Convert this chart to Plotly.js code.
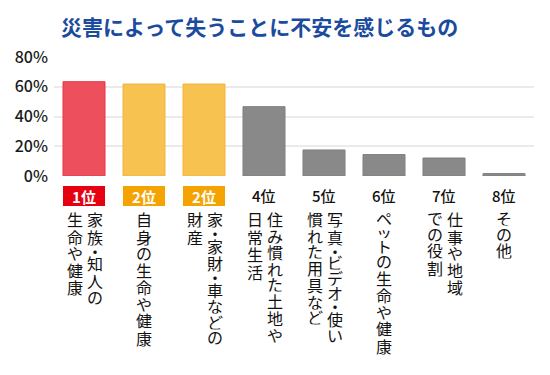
<!DOCTYPE html>
<html>
<head>
<meta charset="utf-8">
<script src="https://cdn.plot.ly/plotly-3.0.1.min.js"></script>
<style>html,body{margin:0;padding:0;background:#fff;}#chart{width:550px;height:375px;}</style>
</head>
<body>
<div id="chart"></div>
<script>
// Data
var categories = ["家族・知人の\n生命や健康", "自身の生命や健康", "家・家財・車などの\n財産", "住み慣れた土地や\n日常生活", "写真・ビデオ・使い\n慣れた用具など", "ペットの生命や健康", "仕事や地域\nでの役割", "その他"];
var values = [63.4, 61.8, 61.8, 46.6, 17.5, 14.4, 12.1, 1.6];
var ranks = ["1位", "2位", "2位", "4位", "5位", "6位", "7位", "8位"];
var rankNums = [1, 2, 2, 4, 5, 6, 7, 8];
var yTicks = [0, 20, 40, 60, 80];

var FONT = "Noto Sans CJK JP, Noto Sans, sans-serif";

function barColor(r) { return r === 1 ? "#ee4f5d" : (r <= 3 ? "#f7c24f" : "#898989"); }
function barLine(r) { return r === 1 ? "#e8364a" : (r <= 3 ? "#f3b43a" : "#7e7e7e"); }
function boxColor(r) { return r === 1 ? "#e60012" : "#f5a300"; }

var xs = categories.map(function (_, i) { return i; });

var trace = {
  type: "bar",
  x: xs,
  y: values,
  marker: {
    color: rankNums.map(barColor),
    line: { color: rankNums.map(barLine), width: 1 }
  },
  hoverinfo: "skip"
};

var annotations = [];

// rank badges
ranks.forEach(function (t, i) {
  var r = rankNums[i];
  var a = {
    xref: "x", x: i, yref: "paper", y: 0, yanchor: "middle", xanchor: "center",
    yshift: -19.5, text: t, showarrow: false,
    font: { family: FONT, size: 15, color: r <= 3 ? "#ffffff" : "#111111", weight: r <= 3 ? "bold" : 500 }
  };
  if (r <= 3) {
    a.bgcolor = boxColor(r);
    a.width = 42; a.height = 20; a.borderpad = 0;
    a.bordercolor = boxColor(r); a.borderwidth = 0;
  }
  annotations.push(a);
});

// vertical (tategaki) category labels, one annotation per character
function advance(ch) {
  if (ch === "・") return 9;
  if ("ッっャュョ".indexOf(ch) >= 0) return 12;
  var c = ch.charCodeAt(0);
  if (c >= 0x3040 && c <= 0x30ff) return 15.5;
  return 17.5;
}
categories.forEach(function (lab, i) {
  var cols = lab.split("\n");
  cols.forEach(function (col, k) {
    var xoff;
    if (cols.length === 1) xoff = -0.5;
    else xoff = (k === 0) ? 11 : -9;
    var cum = 34.5;
    Array.from(col).forEach(function (ch) {
      var adv = advance(ch);
      annotations.push({
        xref: "x", x: i, yref: "paper", y: 0,
        xanchor: "center", yanchor: "middle",
        xshift: xoff, yshift: -(cum + adv / 2),
        text: ch, showarrow: false, height: adv, borderpad: 0,
        font: { family: FONT, size: 16, color: "#111111" }
      });
      cum += adv;
    });
  });
});

var layout = {
  width: 550, height: 375,
  margin: { l: 54, r: 16, t: 57, b: 199 },
  paper_bgcolor: "#ffffff", plot_bgcolor: "#ffffff",
  showlegend: false,
  bargap: 0.3,
  title: {
    text: "災害によって失うことに不安を感じるもの",
    font: { family: FONT, size: 21, color: "#1a4b9e", weight: "bold" },
    x: 0.472, xref: "container", xanchor: "center",
    y: 0.927, yref: "container", yanchor: "middle"
  },
  xaxis: {
    type: "linear", range: [-0.5, 7.5],
    showticklabels: false, showgrid: false, zeroline: false, showline: false, ticks: ""
  },
  yaxis: {
    range: [0, 80], tickvals: yTicks, ticktext: yTicks.map(function (v) { return v + "%"; }),
    showgrid: true, gridcolor: "#ebebeb", gridwidth: 2,
    zeroline: false, showline: false, ticks: "",
    tickfont: { family: FONT, size: 16, color: "#1a1a1a", weight: 500 },
    ticklabelstandoff: 5
  },
  annotations: annotations
};

Plotly.newPlot("chart", [trace], layout, { displayModeBar: false, staticPlot: true });
</script>
</body>
</html>
